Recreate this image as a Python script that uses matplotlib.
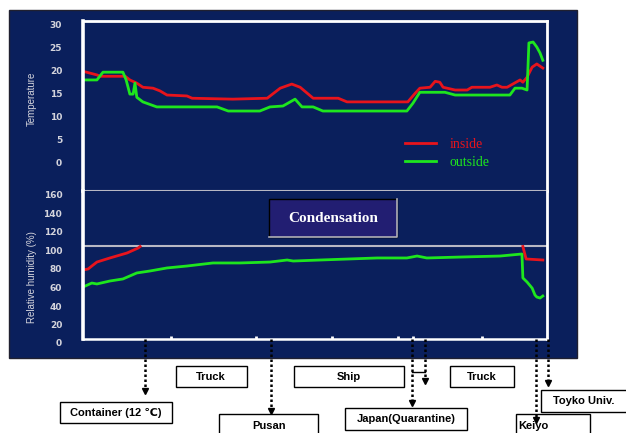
import matplotlib
matplotlib.use('Agg')
import matplotlib.pyplot as plt
import matplotlib.transforms as mtransforms
from matplotlib.patches import Rectangle
from matplotlib.lines import Line2D
import numpy as np

# ---------------- data (x = elapsed part of the trip, 0-100) ----------------
temp_in_x = [0, 3.0, 3.7, 9.1, 10.1, 11.6, 12.9, 15.1, 16.6, 18.1,
             22.4, 23.5, 32.3, 39.7, 42.5, 45.0, 46.8, 49.6, 55.0, 56.9,
             70.0, 71.6, 72.6, 74.8, 75.9, 76.9, 77.6, 80.2, 82.8, 83.8,
             87.7, 89.2, 90.3, 91.4, 94.2, 94.8, 95.7, 96.8, 97.8, 99.1]
temp_in = [19.0, 18.2, 17.9, 17.9, 17.1, 16.4, 15.5, 15.3, 14.7, 13.8,
           13.6, 13.1, 12.9, 13.1, 15.3, 16.2, 15.5, 13.1, 13.1, 12.3,
           12.3, 14.2, 15.3, 15.5, 16.8, 16.6, 15.5, 14.9, 14.9, 15.5,
           15.5, 16.0, 15.5, 15.5, 17.1, 16.6, 17.7, 19.9, 20.6, 19.7]

temp_out_x = [0, 3.0, 4.3, 8.6, 9.3, 10.1, 10.8, 11.2, 11.6, 12.9,
              15.9, 28.9, 31.3, 38.1, 40.3, 43.1, 45.7, 47.2, 49.6, 51.7,
              69.8, 71.1, 72.6, 78.0, 80.2, 92.0, 93.1, 94.6, 95.7, 95.9,
              96.1, 97.0, 97.8, 98.5, 99.1]
temp_out = [17.1, 17.1, 18.8, 18.8, 17.1, 14.0, 14.0, 16.4, 13.3, 12.3,
            11.2, 11.2, 10.3, 10.3, 11.2, 11.4, 12.9, 11.2, 11.2, 10.3,
            10.3, 12.0, 14.4, 14.4, 13.8, 13.8, 15.3, 15.3, 14.9, 19.9,
            25.2, 25.4, 24.3, 23.0, 21.4]

# inside humidity is hidden while above 100 % (condensation)
hum_in_x = [0, 1.1, 1.9, 3.0, 5.8, 9.5, 11.9, 12.3, np.nan, 94.8, 95.5, 99.1]
hum_in = [74.6, 75.7, 78.9, 83.2, 87.6, 93.0, 98.4, 100, np.nan, 100, 86.5, 85.4]

hum_out_x = [0, 1.9, 3.0, 5.8, 8.6, 11.6, 14.4, 18.1, 22.4, 28.0,
             33.8, 40.3, 44.0, 45.3, 51.1, 63.4, 69.8, 72.0, 74.1, 81.3,
             89.9, 94.6, 94.8, 95.7, 96.8, 97.4, 97.8, 98.5, 99.1]
hum_out = [56.2, 60.5, 59.5, 62.7, 64.9, 71.4, 73.5, 76.8, 78.9, 82.2,
           82.2, 83.2, 85.4, 84.3, 85.4, 87.6, 87.6, 89.7, 87.6, 88.6,
           89.7, 91.9, 66.0, 61.6, 55.0, 47.6, 45.4, 44.3, 46.5]

temp_ticks = [0, 5, 10, 15, 20, 25, 30]
hum_ticks = [0, 20, 40, 60, 80, 100, 120, 140, 160]
minor_marks = [19.0, 37.3, 53.7, 67.9, 71.1, 86.0]

# route events: position on the time axis
event_x = [13.4, 40.5, 70.9, 73.7, 97.6, 100.2]

# ---------------- figure ----------------
W, H = 626, 433
fig = plt.figure(figsize=(W / 100, H / 100), dpi=100)
fig.patch.set_facecolor('white')


def fx(x):
    return x / W


def fy(y):
    return 1 - y / H


navy = '#0a1f5c'
red = '#e8141c'
green = '#1ee61e'
grey = '#d4d4dc'

fig.patches.append(Rectangle((fx(9), fy(358)), (577 - 9) / W, (358 - 10) / H,
                             transform=fig.transFigure, facecolor=navy,
                             edgecolor='#202030', lw=1, zorder=-1))

ax_t = fig.add_axes([fx(83), fy(191), (547 - 83) / W, (191 - 21) / H])
ax_h = fig.add_axes([fx(83), fy(339), (547 - 83) / W, (339 - 191) / H])

shift = mtransforms.ScaledTranslation(0, -4 / 100, fig.dpi_scale_trans)

for ax in (ax_t, ax_h):
    ax.set_zorder(1)
    ax.set_facecolor(navy)
    ax.set_xlim(0, 100)
    ax.tick_params(axis='y', length=0, pad=15, labelcolor=grey, labelsize=6.5)
    for s in ax.spines.values():
        s.set_color('white')
    ax.spines['left'].set_linewidth(2.6)
    ax.spines['right'].set_linewidth(2)

# temperature panel
ax_t.plot(temp_in_x, temp_in, color=red, lw=2, label='inside')
ax_t.plot(temp_out_x, temp_out, color=green, lw=2, label='outside')
ax_t.set_ylim(-7.2, 30)
ax_t.set_yticks(temp_ticks)
ax_t.set_xticks([])
ax_t.spines['top'].set_linewidth(2)
ax_t.spines['bottom'].set_color('#b8b8c4')
ax_t.spines['bottom'].set_linewidth(1.5)
ax_t.legend(loc='upper left', bbox_to_anchor=(0.694, 0.312), frameon=False,
            prop={'family': 'Liberation Serif', 'size': 10}, labelcolor='linecolor',
            handlelength=2.2, handletextpad=1.0, labelspacing=0.35,
            borderpad=0, borderaxespad=0)

# humidity panel
ax_h.axhline(100, color='#b8b8c4', lw=1.5)
ax_h.plot(hum_in_x, hum_in, color=red, lw=2)
ax_h.plot(hum_out_x, hum_out, color=green, lw=2)
ax_h.set_ylim(0, 160)
ax_h.set_yticks(hum_ticks)
ax_h.set_xticks(minor_marks)
ax_h.tick_params(axis='x', direction='in', length=2, width=2, color='white',
                 labelbottom=False)
ax_h.spines['top'].set_visible(False)
ax_h.spines['bottom'].set_linewidth(1.8)

for ax in (ax_t, ax_h):
    for lab in ax.get_yticklabels():
        lab.set_fontweight('bold')
        lab.set_transform(lab.get_transform() + shift)

fig.text(fx(32), fy(99), 'Temperature', rotation=90, ha='center', va='center',
         color=grey, fontsize=7, family='Liberation Sans')
fig.text(fx(32), fy(277), 'Relative humidity (%)', rotation=90, ha='center',
         va='center', color=grey, fontsize=7, family='Liberation Sans')

# condensation label
fig.patches.append(Rectangle((fx(269), fy(237)), 128 / W, 38 / H,
                             transform=fig.transFigure, facecolor='#221e72',
                             edgecolor='black', lw=1, zorder=3))
fig.add_artist(Line2D([fx(269), fx(397), fx(397)], [fy(237), fy(237), fy(199)],
                      transform=fig.transFigure, color='#b0b0bc', lw=1.2, zorder=4))
fig.text(fx(333), fy(218), 'Condensation', ha='center', va='center', color='white',
         fontsize=11, fontweight='bold', family='Liberation Serif', zorder=5)

# route boxes
boxes = [
    ('Truck', 176, 366, 247, 387, 211, 377),
    ('Ship', 294, 366, 404, 387, 349, 377),
    ('Truck', 450, 366, 514, 387, 482, 377),
    ('Container (12 \u2103)', 60, 402, 172, 423, 116, 413),
    ('Pusan', 219, 414, 318, 445, 269, 426),
    ('Japan(Quarantine)', 345, 408, 467, 430, 406, 419),
    ('Keiyo', 516, 414, 590, 445, 533, 426),
    ('Toyko Univ.', 541, 390, 630, 412, 584, 401),
]
for label, x0, y0, x1, y1, tx, ty in boxes:
    fig.patches.append(Rectangle((fx(x0), fy(y1)), (x1 - x0) / W, (y1 - y0) / H,
                                 transform=fig.transFigure, facecolor='white',
                                 edgecolor='black', lw=1, zorder=2))
    fig.text(fx(tx), fy(ty), label, ha='center', va='center', fontsize=8,
             fontweight='bold', family=['Liberation Sans', 'DejaVu Sans'], zorder=3)

# dotted arrows from the time axis to the boxes
trans = mtransforms.blended_transform_factory(ax_h.transData, fig.transFigure)
tips = [393, 413, 405, 383, 422, 385]
for x, tip in zip(event_x, tips):
    fig.add_artist(Line2D([x, x], [fy(339), fy(tip - 3)], transform=trans,
                          color='black', lw=1.8, linestyle=(0, (1, 1)), zorder=6))
    fig.add_artist(Line2D([x], [fy(tip - 2)], transform=trans, marker='v',
                          markersize=5, color='black', linestyle='none', zorder=6))
fig.add_artist(Line2D([event_x[2], event_x[3]], [fy(372), fy(372)], transform=trans,
                      color='black', lw=1, zorder=6))

fig.savefig('out.png', dpi=100, facecolor='white')
